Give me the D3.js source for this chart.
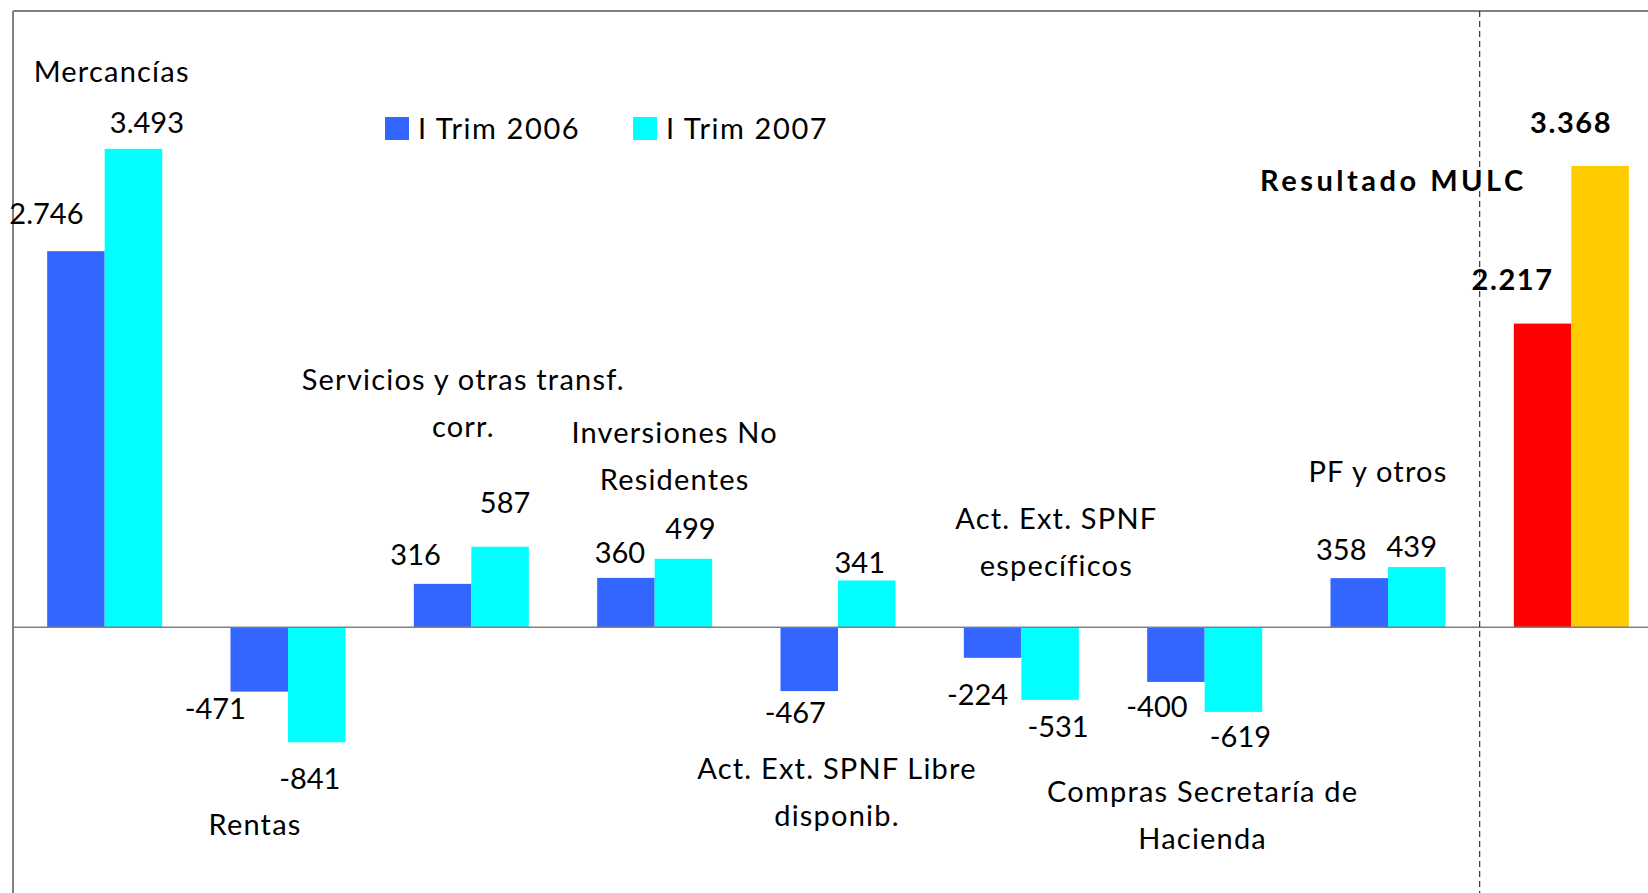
<!DOCTYPE html>
<html>
<head>
<meta charset="utf-8">
<script src="https://cdn.jsdelivr.net/npm/d3@7/dist/d3.min.js"></script>
<style>
  html, body { margin: 0; padding: 0; background: #fff; }
  svg { display: block; }
  text { font-family: Lato, "Open Sans", sans-serif; fill: #000; }
</style>
</head>
<body>
<svg id="chart" width="1648" height="893"></svg>
<script>
// ---------- data ----------
const categories = [
  ["Mercancías"],
  ["Rentas"],
  ["Servicios y otras transf.", "corr."],
  ["Inversiones No", "Residentes"],
  ["Act. Ext. SPNF Libre", "disponib."],
  ["Act. Ext. SPNF", "específicos"],
  ["Compras Secretaría de", "Hacienda"],
  ["PF y otros"],
  ["Resultado MULC"]
];
const seriesNames = ["I Trim 2006", "I Trim 2007"];
const trim2006 = [2746, -471, 316, 360, -467, -224, -400, 358, 2217];
const trim2007 = [3493, -841, 587, 499, 341, -531, -619, 439, 3368];
const valueLabels2006 = ["2.746", "-471", "316", "360", "-467", "-224", "-400", "358", "2.217"];
const valueLabels2007 = ["3.493", "-841", "587", "499", "341", "-531", "-619", "439", "3.368"];
const yDomain = [-2000, 4500];

// ---------- layout (positions / styles, kept apart from the data) ----------
const W = 1648, H = 893;
const plot = { left: 13, top: 11, right: 1663, bottom: 901 };
const colors2006 = ["#3366FF","#3366FF","#3366FF","#3366FF","#3366FF","#3366FF","#3366FF","#3366FF","#FF0000"];
const colors2007 = ["#00FFFF","#00FFFF","#00FFFF","#00FFFF","#00FFFF","#00FFFF","#00FFFF","#00FFFF","#FFCC00"];
// category title: dx from category centre (px), baseline y (px)
const titleLayout = [
  [7, 82], [-33, 835], [-8, 390], [20, 443], [-1, 779],
  [35, 529], [-2, 802], [-10, 482], [-178, 191]
];
const lineGap = 47;
// value labels: dx from bar centre, dy from bar end (baseline)
const lab2006 = [[-29.5,-27],[-44,27.5],[-27,-19],[-6,-15],[-14,32],[-15,47],[-19,35],[-18,-18],[-30,-34]];
const lab2007 = [[13.5,-16],[-7,47],[5,-34],[7,-20],[-7,-7],[8,37],[7,35],[-5,-10],[-29,-33]];
const fontSize = 29;
const textSpacing = 1.2, boldTitleSpacing = 3.5, boldValueSpacing = 1.6;

// ---------- scales ----------
const svg = d3.select("#chart");
const idx = d3.range(categories.length);
const x0 = d3.scaleBand().domain(idx).range([plot.left, plot.right])
  .paddingInner(0.3727).paddingOuter(0.18635);
const x1 = d3.scaleBand().domain([0, 1]).range([0, x0.bandwidth()]);
const y = d3.scaleLinear().domain(yDomain).range([plot.bottom, plot.top]);

const series = [
  { vals: trim2006, labels: valueLabels2006, colors: colors2006, lab: lab2006, k: 0 },
  { vals: trim2007, labels: valueLabels2007, colors: colors2007, lab: lab2007, k: 1 }
];

// bars
series.forEach(s => {
  svg.append("g").selectAll("rect").data(idx).join("rect")
    .attr("x", i => x0(i) + x1(s.k))
    .attr("width", x1.bandwidth())
    .attr("y", i => y(Math.max(0, s.vals[i])))
    .attr("height", i => Math.abs(y(s.vals[i]) - y(0)))
    .attr("fill", i => s.colors[i]);
});

// frame and zero line
svg.append("line").attr("x1", plot.left).attr("x2", W).attr("y1", plot.top).attr("y2", plot.top)
  .attr("stroke", "#808080").attr("stroke-width", 2);
svg.append("line").attr("x1", plot.left).attr("x2", plot.left).attr("y1", plot.top).attr("y2", H)
  .attr("stroke", "#808080").attr("stroke-width", 2);
svg.append("line").attr("x1", plot.left).attr("x2", W).attr("y1", y(0)).attr("y2", y(0))
  .attr("stroke", "#808080").attr("stroke-width", 1.5);

// dashed separator before the MULC result
const sepX = x0(8) - x0.step() * x0.paddingInner() / 2;
svg.append("line").attr("x1", sepX).attr("x2", sepX).attr("y1", plot.top).attr("y2", H)
  .attr("stroke", "#333").attr("stroke-width", 1.2).attr("stroke-dasharray", "6,4");

// value labels
series.forEach(s => {
  svg.append("g").selectAll("text").data(idx).join("text")
    .attr("x", i => x0(i) + x1(s.k) + x1.bandwidth() / 2 + s.lab[i][0])
    .attr("y", i => y(s.vals[i]) + s.lab[i][1])
    .attr("text-anchor", "middle")
    .attr("font-size", fontSize)
    .attr("font-weight", i => i === 8 ? "bold" : "normal")
    .attr("letter-spacing", i => i === 8 ? boldValueSpacing : 0)
    .text(i => s.labels[i]);
});

// category titles
const tg = svg.append("g");
idx.forEach(i => {
  const cx = x0(i) + x0.bandwidth() / 2 + titleLayout[i][0];
  const t = tg.append("text")
    .attr("text-anchor", "middle")
    .attr("font-size", fontSize)
    .attr("font-weight", i === 8 ? "bold" : "normal")
    .attr("letter-spacing", i === 8 ? boldTitleSpacing : textSpacing);
  categories[i].forEach((line, j) => {
    t.append("tspan").attr("x", cx).attr("y", titleLayout[i][1] + j * lineGap).text(line);
  });
});

// legend
const legendX = [385, 633];
series.forEach((s, k) => {
  svg.append("rect").attr("x", legendX[k]).attr("y", 117).attr("width", 24).attr("height", 23)
    .attr("fill", s.colors[0]);
  svg.append("text").attr("x", legendX[k] + 33).attr("y", 139)
    .attr("font-size", fontSize).attr("letter-spacing", 1.6).text(seriesNames[k]);
});
</script>
</body>
</html>
